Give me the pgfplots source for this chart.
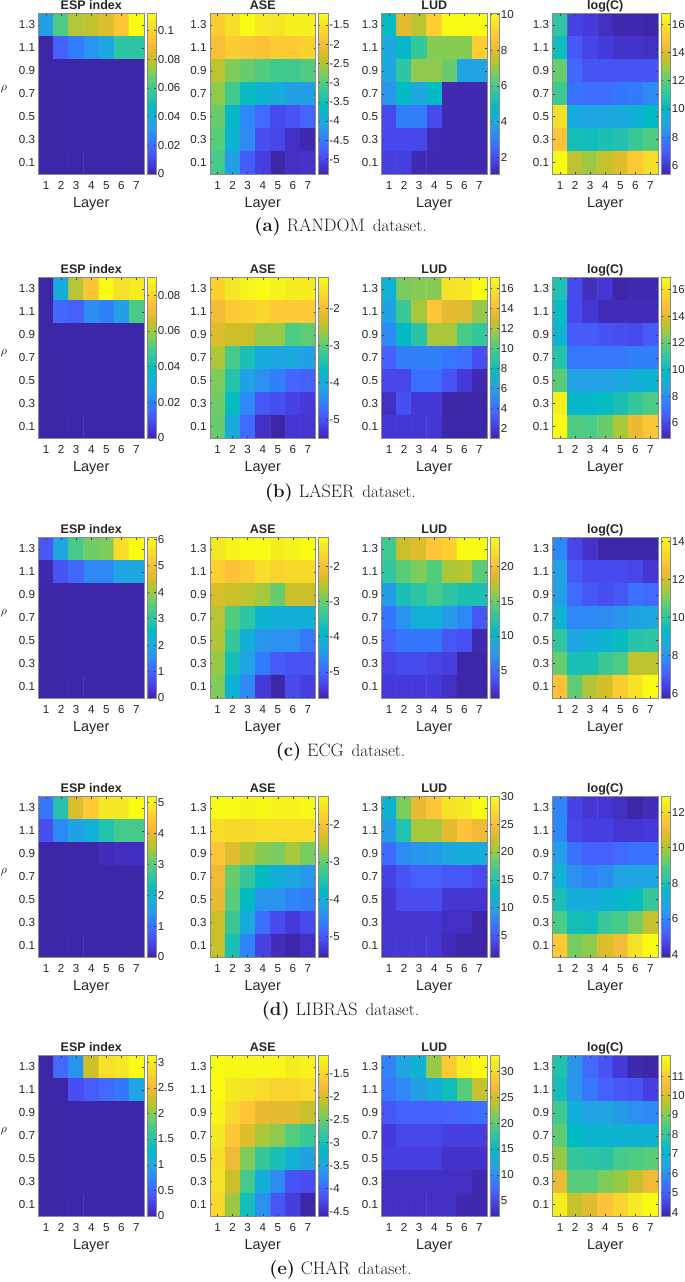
\documentclass[border=0pt]{standalone}
\usepackage{fontspec}
\setsansfont{Liberation Sans}
\usepackage{pgfplots}
\pgfplotsset{compat=1.18}

% parula
\pgfplotsset{colormap={parula}{
  rgb=(0.2422,0.1504,0.6603) rgb=(0.2706,0.2147,0.8364) rgb=(0.2813,0.3006,0.9414)
  rgb=(0.2699,0.3892,0.9906) rgb=(0.1963,0.4847,0.9892) rgb=(0.1687,0.5703,0.9359)
  rgb=(0.1248,0.6459,0.8883) rgb=(0.0689,0.6948,0.8394) rgb=(0.0067,0.7312,0.7660)
  rgb=(0.1408,0.7584,0.6842) rgb=(0.2161,0.7843,0.5923) rgb=(0.3406,0.8008,0.4789)
  rgb=(0.5044,0.7993,0.3480) rgb=(0.6720,0.7793,0.2227) rgb=(0.8203,0.7498,0.1535)
  rgb=(0.9393,0.7288,0.2100) rgb=(0.9970,0.7659,0.2199) rgb=(0.9786,0.8386,0.1766)
  rgb=(0.9597,0.9135,0.1423) rgb=(0.9769,0.9839,0.0805)}}

\pgfplotsset{
  heat/.style={
    scale only axis, width=105.5pt, height=160.5pt, anchor=south west,
    axis on top, colormap name=parula,
    xmin=0.5, xmax=7.5, ymin=0, ymax=1.4,
    xtick={1,...,7},
    ytick={0.1,0.3,0.5,0.7,0.9,1.1,1.3},
    yticklabels={0.1,0.3,0.5,0.7,0.9,1.1,1.3},
    tick align=inside, major tick length=2pt,
    tick style={black!75, line width=0.4pt},
    axis line style={black!45, line width=0.8pt},
    tick label style={font=\sffamily\fontsize{11.6}{12}\selectfont, black!85},
    /pgf/number format/assume math mode=true,
    xticklabel style={yshift=-3.5pt},
    xlabel={Layer},
    xlabel style={font=\sffamily\fontsize{14.5}{15}\selectfont, black!85, yshift=-1pt},
    title style={font=\sffamily\bfseries\fontsize{12.5}{13}\selectfont, black!85, inner sep=0pt,
      at={(0.5,1)}, anchor=base, yshift=-2pt},
    colorbar,
  },
  firstcol/.style={
    ylabel={$\rho$},
    ylabel style={at={(axis description cs:-0.327,0.53)}, anchor=center, rotate=-90, font=\fontsize{13}{13}\selectfont},
  },
}

\newcommand{\panel}[8][]{%
\begin{axis}[heat, at={(#2pt,-#3pt)}, title={#4},
  point meta min=#5, point meta max=#6,
  colorbar style={width=9.5pt, xshift=-6pt, ytick={#7}, yticklabel pos=right,
    scaled y ticks=false,
    tick align=inside, major tick length=2pt, tick style={black!75, line width=0.4pt},
    axis line style={black!45, line width=0.8pt},
    /pgf/number format/fixed, /pgf/number format/assume math mode=true,
    yticklabel style={font=\sffamily\fontsize{11.5}{12}\selectfont, black!85, xshift=-2pt}},
  #1]
\addplot[matrix plot*, point meta=explicit, mesh/cols=7] coordinates {#8};
\end{axis}}

\newcommand{\subcap}[3]{\node[font=\fontsize{17}{18}\selectfont, black!90] at (340.5pt,-#1pt) {{\bfseries\fontsize{18.5}{19}\selectfont (#2)}\hspace{6pt}{\fontsize{18}{18}\selectfont #3}\hspace{8pt}dataset.};}

\begin{document}
\begin{tikzpicture}
\path[use as bounding box] (0,0) rectangle (685pt,-1282pt);

% (a) RANDOM
\panel[firstcol]{38.5}{174}{ESP index}{0}{0.112}{0,0.02,0.04,0.06,0.08,0.1}{
(1,1.3)[0.034](2,1.3)[0.063](3,1.3)[0.078](4,1.3)[0.08](5,1.3)[0.085](6,1.3)[0.095](7,1.3)[0.112]
(1,1.1)[0](2,1.1)[0.017](3,1.1)[0.024](4,1.1)[0.031](5,1.1)[0.037](6,1.1)[0.056](7,1.1)[0.056]
(1,0.9)[0](2,0.9)[0](3,0.9)[0](4,0.9)[0](5,0.9)[0](6,0.9)[0](7,0.9)[0]
(1,0.7)[0](2,0.7)[0](3,0.7)[0](4,0.7)[0](5,0.7)[0](6,0.7)[0](7,0.7)[0]
(1,0.5)[0](2,0.5)[0](3,0.5)[0](4,0.5)[0](5,0.5)[0](6,0.5)[0](7,0.5)[0]
(1,0.3)[0](2,0.3)[0](3,0.3)[0](4,0.3)[0](5,0.3)[0](6,0.3)[0](7,0.3)[0]
(1,0.1)[0](2,0.1)[0](3,0.1)[0](4,0.1)[0](5,0.1)[0](6,0.1)[0](7,0.1)[0]}
\panel{210}{174}{ASE}{-5.38}{-1.2}{-5,-4.5,-4,-3.5,-3,-2.5,-2,-1.5}{
(1,1.3)[-1.74](2,1.3)[-1.53](3,1.3)[-1.2](4,1.3)[-1.41](5,1.3)[-1.45](6,1.3)[-1.33](7,1.3)[-1.33]
(1,1.1)[-1.95](2,1.1)[-1.74](3,1.1)[-1.83](4,1.1)[-1.91](5,1.1)[-1.74](6,1.1)[-1.79](7,1.1)[-1.7]
(1,0.9)[-2.41](2,0.9)[-2.75](3,0.9)[-2.87](4,0.9)[-3](5,0.9)[-3.12](6,0.9)[-3.12](7,0.9)[-3]
(1,0.7)[-2.66](2,0.7)[-3.12](3,0.7)[-3.58](4,0.7)[-3.79](5,0.7)[-3.92](6,0.7)[-4.13](7,0.7)[-4.13]
(1,0.5)[-2.87](2,0.5)[-3.67](3,0.5)[-4.38](4,0.5)[-4.67](5,0.5)[-4.96](6,0.5)[-4.88](7,0.5)[-4.71]
(1,0.3)[-2.96](2,0.3)[-3.79](3,0.3)[-4.34](4,0.3)[-4.92](5,0.3)[-5](6,0.3)[-5.25](7,0.3)[-5.34]
(1,0.1)[-3.08](2,0.1)[-4.13](3,0.1)[-4.79](4,0.1)[-5.09](5,0.1)[-5.38](6,0.1)[-5.25](7,0.1)[-5.21]}
\panel{381.5}{174}{LUD}{1.05}{10.05}{2,4,6,8,10}{
(1,1.3)[4.9](2,1.3)[8](3,1.3)[7.4](4,1.3)[8.9](5,1.3)[10.05](6,1.3)[10.05](7,1.3)[10.05]
(1,1.1)[4](2,1.1)[4.65](3,1.1)[5.7](4,1.1)[6.8](5,1.1)[6.8](6,1.1)[6.8](7,1.1)[8.9]
(1,0.9)[4](2,0.9)[5.55](3,0.9)[6.9](4,0.9)[6.9](5,0.9)[6.45](6,0.9)[3.85](7,0.9)[3.85]
(1,0.7)[3.5](2,0.7)[4.85](3,0.7)[4](4,0.7)[4.85](5,0.7)[1.15](6,0.7)[1.15](7,0.7)[1.15]
(1,0.5)[1.95](2,0.5)[3](3,0.5)[3](4,0.5)[1.95](5,0.5)[1.15](6,0.5)[1.15](7,0.5)[1.15]
(1,0.3)[1.9](2,0.3)[1.9](3,0.3)[1.9](4,0.3)[1.2](5,0.3)[1.15](6,0.3)[1.15](7,0.3)[1.15]
(1,0.1)[1.7](2,0.1)[1.7](3,0.1)[1.15](4,0.1)[1.15](5,0.1)[1.15](6,0.1)[1.15](7,0.1)[1.15]}
\panel{552.5}{174}{log(C)}{5.4}{16.75}{6,8,10,12,14,16}{
(1,1.3)[11.1](2,1.3)[6.3](3,1.3)[6.1](4,1.3)[5.75](5,1.3)[5.5](6,1.3)[5.5](7,1.3)[5.4]
(1,1.1)[10.4](2,1.1)[6.9](3,1.1)[6.4](4,1.1)[6.1](5,1.1)[5.85](6,1.1)[5.85](7,1.1)[5.75]
(1,0.9)[12.2](2,0.9)[7.3](3,0.9)[6.8](4,0.9)[6.8](5,0.9)[6.8](6,0.9)[6.8](7,0.9)[6.8]
(1,0.7)[11.5](2,0.7)[7.55](3,0.7)[7.45](4,0.7)[7.45](5,0.7)[7.65](6,0.7)[7.8](7,0.7)[8.2]
(1,0.5)[15.85](2,0.5)[9.25](3,0.5)[9.15](4,0.5)[9.15](5,0.5)[9.25](6,0.5)[9.6](7,0.5)[10.15]
(1,0.3)[14.95](2,0.3)[10.5](3,0.3)[10.4](4,0.3)[10.6](5,0.3)[10.75](6,0.3)[11.4](7,0.3)[11.85]
(1,0.1)[16.75](2,0.1)[13.45](3,0.1)[13](4,0.1)[13.55](5,0.1)[14](6,0.1)[15.15](7,0.1)[15.75]}
\subcap{227}{a}{RANDOM}

% (b) LASER
\panel[firstcol]{38.5}{438}{ESP index}{0}{0.09}{0,0.02,0.04,0.06,0.08}{
(1,1.3)[0](2,1.3)[0.031](3,1.3)[0.063](4,1.3)[0.076](5,1.3)[0.09](6,1.3)[0.083](7,1.3)[0.086]
(1,1.1)[0](2,1.1)[0.015](3,1.1)[0.0135](4,1.1)[0.023](5,1.1)[0.02](6,1.1)[0.027](7,1.1)[0.05]
(1,0.9)[0](2,0.9)[0](3,0.9)[0](4,0.9)[0](5,0.9)[0](6,0.9)[0](7,0.9)[0]
(1,0.7)[0](2,0.7)[0](3,0.7)[0](4,0.7)[0](5,0.7)[0](6,0.7)[0](7,0.7)[0]
(1,0.5)[0](2,0.5)[0](3,0.5)[0](4,0.5)[0](5,0.5)[0](6,0.5)[0](7,0.5)[0]
(1,0.3)[0](2,0.3)[0](3,0.3)[0](4,0.3)[0](5,0.3)[0](6,0.3)[0](7,0.3)[0]
(1,0.1)[0](2,0.1)[0](3,0.1)[0](4,0.1)[0](5,0.1)[0](6,0.1)[0](7,0.1)[0]}
\panel{210}{438}{ASE}{-5.5}{-1.17}{-5,-4,-3,-2}{
(1,1.3)[-1.69](2,1.3)[-1.43](3,1.3)[-1.26](4,1.3)[-1.17](5,1.3)[-1.26](6,1.3)[-1.34](7,1.3)[-1.34]
(1,1.1)[-2.04](2,1.1)[-1.78](3,1.1)[-1.69](4,1.1)[-1.6](5,1.1)[-1.78](6,1.1)[-1.78](7,1.1)[-1.78]
(1,0.9)[-2.21](2,0.9)[-2.34](3,0.9)[-2.34](4,0.9)[-2.64](5,0.9)[-2.64](6,0.9)[-3.08](7,0.9)[-2.95]
(1,0.7)[-2.51](2,0.7)[-3.12](3,0.7)[-3.51](4,0.7)[-3.98](5,0.7)[-4.07](6,0.7)[-4.07](7,0.7)[-4.16]
(1,0.5)[-2.77](2,0.5)[-3.42](3,0.5)[-4.16](4,0.5)[-4.37](5,0.5)[-4.55](6,0.5)[-4.81](7,0.5)[-4.85]
(1,0.3)[-2.86](2,0.3)[-3.64](3,0.3)[-4.46](4,0.3)[-4.94](5,0.3)[-5.02](6,0.3)[-5.15](7,0.3)[-5.24]
(1,0.1)[-2.9](2,0.1)[-4.03](3,0.1)[-4.76](4,0.1)[-5.37](5,0.1)[-5.5](6,0.1)[-5.28](7,0.1)[-5.28]}
\panel{381.5}{438}{LUD}{1.07}{17.07}{2,4,6,8,10,12,14,16}{
(1,1.3)[7](2,1.3)[11](3,1.3)[11.3](4,1.3)[11.3](5,1.3)[15.95](6,1.3)[16.1](7,1.3)[17.07]
(1,1.1)[6](2,1.1)[9.55](3,1.1)[11.95](4,1.1)[14.65](5,1.1)[13.4](6,1.1)[13.25](7,1.1)[11.6]
(1,0.9)[4.9](2,0.9)[7.8](3,0.9)[8.9](4,0.9)[11.95](5,0.9)[11.95](6,0.9)[9.9](7,0.9)[9.4]
(1,0.7)[3.5](2,0.7)[4.6](3,0.7)[4.6](4,0.7)[4.6](5,0.7)[4.3](6,0.7)[4](7,0.7)[2.85]
(1,0.5)[2.5](2,0.5)[2.5](3,0.5)[4](4,0.5)[4](5,0.5)[3](6,0.5)[2](7,0.5)[1.25]
(1,0.3)[1.55](2,0.3)[2.85](3,0.3)[1.9](4,0.3)[1.9](5,0.3)[1.07](6,0.3)[1.07](7,0.3)[1.07]
(1,0.1)[1.9](2,0.1)[1.9](3,0.1)[1.9](4,0.1)[1.9](5,0.1)[1.07](6,0.1)[1.07](7,0.1)[1.07]}
\panel{552.5}{438}{log(C)}{4.87}{16.9}{6,8,10,12,14,16}{
(1,1.3)[10.5](2,1.3)[6.07](3,1.3)[5.2](4,1.3)[5.47](5,1.3)[4.87](6,1.3)[5](7,1.3)[5]
(1,1.1)[10.05](2,1.1)[6.07](3,1.1)[5.47](4,1.1)[5.1](5,1.1)[5.1](6,1.1)[5.1](7,1.1)[5.1]
(1,0.9)[9.45](2,0.9)[6.55](3,0.9)[6.55](4,0.9)[6.3](5,0.9)[6.2](6,0.9)[6.07](7,0.9)[6.55]
(1,0.7)[10.65](2,0.7)[7.28](3,0.7)[7.28](4,0.7)[7.28](5,0.7)[7.28](6,0.7)[7.52](7,0.7)[7.52]
(1,0.5)[11.85](2,0.5)[8.6](3,0.5)[8.6](4,0.5)[8.6](5,0.5)[8.85](6,0.5)[9.2](7,0.5)[9.45]
(1,0.3)[16.5](2,0.3)[9.7](3,0.3)[9.7](4,0.3)[10.05](5,0.3)[10.4](6,0.3)[11.1](7,0.3)[11.6]
(1,0.1)[16.9](2,0.1)[11.7](3,0.1)[11.6](4,0.1)[12.1](5,0.1)[13.05](6,0.1)[14.25](7,0.1)[15.1]}
\subcap{493}{b}{LASER}

% (c) ECG
\panel[firstcol]{38.5}{698}{ESP index}{0}{6.06}{0,1,2,3,4,5,6}{
(1,1.3)[0.8](2,1.3)[2](3,1.3)[3.35](4,1.3)[3.7](5,1.3)[3.8](6,1.3)[5.55](7,1.3)[6.06]
(1,1.1)[0.05](2,1.1)[0.75](3,1.1)[1](4,1.1)[1.45](5,1.1)[1.45](6,1.1)[1.9](7,1.1)[1.95]
(1,0.9)[0](2,0.9)[0](3,0.9)[0](4,0.9)[0](5,0.9)[0](6,0.9)[0](7,0.9)[0]
(1,0.7)[0](2,0.7)[0](3,0.7)[0](4,0.7)[0](5,0.7)[0](6,0.7)[0](7,0.7)[0]
(1,0.5)[0](2,0.5)[0](3,0.5)[0](4,0.5)[0](5,0.5)[0](6,0.5)[0](7,0.5)[0]
(1,0.3)[0](2,0.3)[0](3,0.3)[0](4,0.3)[0](5,0.3)[0](6,0.3)[0](7,0.3)[0]
(1,0.1)[0](2,0.1)[0](3,0.1)[0](4,0.1)[0](5,0.1)[0](6,0.1)[0](7,0.1)[0]}
\panel{210}{698}{ASE}{-5.74}{-1.19}{-5,-4,-3,-2}{
(1,1.3)[-1.46](2,1.3)[-1.28](3,1.3)[-1.19](4,1.3)[-1.19](5,1.3)[-1.37](6,1.3)[-1.28](7,1.3)[-1.19]
(1,1.1)[-1.74](2,1.1)[-1.96](3,1.1)[-1.78](4,1.1)[-1.55](5,1.1)[-1.69](6,1.1)[-1.64](7,1.1)[-1.64]
(1,0.9)[-2.33](2,0.9)[-2.42](3,0.9)[-2.51](4,0.9)[-2.65](5,0.9)[-3.01](6,0.9)[-2.42](7,0.9)[-2.42]
(1,0.7)[-2.55](2,0.7)[-3.15](3,0.7)[-3.47](4,0.7)[-3.97](5,0.7)[-4.1](6,0.7)[-4.1](7,0.7)[-4.1]
(1,0.5)[-2.6](2,0.5)[-3.37](3,0.5)[-4.1](4,0.5)[-4.47](5,0.5)[-4.56](6,0.5)[-4.56](7,0.5)[-4.83]
(1,0.3)[-2.74](2,0.3)[-3.69](3,0.3)[-4.33](4,0.3)[-4.78](5,0.3)[-5.1](6,0.3)[-5.19](7,0.3)[-5.19]
(1,0.1)[-2.87](2,0.1)[-4.01](3,0.1)[-4.65](4,0.1)[-5.47](5,0.1)[-5.74](6,0.1)[-5.29](7,0.1)[-5.42]}
\panel{381.5}{698}{LUD}{1}{24.2}{5,10,15,20}{
(1,1.3)[13.5](2,1.3)[17.9](3,1.3)[18.6](4,1.3)[20.7](5,1.3)[21.4](6,1.3)[24.2](7,1.3)[24.2]
(1,1.1)[12.8](2,1.1)[14.5](3,1.1)[15.6](4,1.1)[14.2](5,1.1)[16.8](6,1.1)[17.2](7,1.1)[14.5]
(1,0.9)[7.7](2,0.9)[11.7](3,0.9)[12.6](4,0.9)[13.8](5,0.9)[12.6](6,0.9)[11.7](7,0.9)[11.7]
(1,0.7)[5.6](2,0.7)[7.3](3,0.7)[9.4](4,0.7)[9.4](5,0.7)[7.7](6,0.7)[6.6](7,0.7)[4]
(1,0.5)[4.5](2,0.5)[5.6](3,0.5)[5.6](4,0.5)[5.6](5,0.5)[4](6,0.5)[3.6](7,0.5)[1.25]
(1,0.3)[2.9](2,0.3)[3.3](3,0.3)[3.3](4,0.3)[2.9](5,0.3)[2.6](6,0.3)[1](7,0.3)[1]
(1,0.1)[2.4](2,0.1)[2.4](3,0.1)[2.4](4,0.1)[2.4](5,0.1)[1.7](6,0.1)[1](7,0.1)[1]}
\panel{552.5}{698}{log(C)}{5.74}{14.2}{6,8,10,12,14}{
(1,1.3)[7.77](2,1.3)[6.5](3,1.3)[6.08](4,1.3)[5.74](5,1.3)[5.74](6,1.3)[5.74](7,1.3)[5.74]
(1,1.1)[8.36](2,1.1)[6.92](3,1.1)[6.59](4,1.1)[6.59](5,1.1)[6.59](6,1.1)[6.5](7,1.1)[6.16]
(1,0.9)[8.28](2,0.9)[7.26](3,0.9)[6.84](4,0.9)[6.67](5,0.9)[6.84](6,0.9)[7.35](7,0.9)[7.18]
(1,0.7)[8.95](2,0.7)[7.77](3,0.7)[7.77](4,0.7)[7.86](5,0.7)[8.02](6,0.7)[8.36](7,0.7)[8.53]
(1,0.5)[10.05](2,0.5)[8.45](3,0.5)[8.79](4,0.5)[8.95](5,0.5)[9.38](6,0.5)[9.8](7,0.5)[9.97]
(1,0.3)[10.8](2,0.3)[9.63](3,0.3)[9.63](4,0.3)[10.22](5,0.3)[10.48](6,0.3)[11.75](7,0.3)[11.75]
(1,0.1)[12.76](2,0.1)[10.73](3,0.1)[11.58](4,0.1)[12](5,0.1)[13.1](6,0.1)[13.6](7,0.1)[14.2]}
\subcap{752}{c}{ECG}

% (d) LIBRAS
\panel[firstcol]{38.5}{957}{ESP index}{0}{5.19}{0,1,2,3,4,5}{
(1,1.3)[1.04](2,1.3)[2.5](3,1.3)[3.9](4,1.3)[4.45](5,1.3)[4.9](6,1.3)[4.9](7,1.3)[5.19]
(1,1.1)[0.57](2,1.1)[1.25](3,1.1)[1.6](4,1.1)[1.9](5,1.1)[2.45](6,1.1)[2.85](7,1.1)[2.85]
(1,0.9)[0](2,0.9)[0](3,0.9)[0](4,0.9)[0](5,0.9)[0.1](6,0.9)[0.15](7,0.9)[0.15]
(1,0.7)[0](2,0.7)[0](3,0.7)[0](4,0.7)[0](5,0.7)[0](6,0.7)[0](7,0.7)[0]
(1,0.5)[0](2,0.5)[0](3,0.5)[0](4,0.5)[0](5,0.5)[0](6,0.5)[0](7,0.5)[0]
(1,0.3)[0](2,0.3)[0](3,0.3)[0](4,0.3)[0](5,0.3)[0](6,0.3)[0](7,0.3)[0]
(1,0.1)[0](2,0.1)[0](3,0.1)[0](4,0.1)[0](5,0.1)[0](6,0.1)[0](7,0.1)[0]}
\panel{210}{957}{ASE}{-5.55}{-1.25}{-5,-4,-3,-2}{
(1,1.3)[-1.25](2,1.3)[-1.25](3,1.3)[-1.34](4,1.3)[-1.29](5,1.3)[-1.38](6,1.3)[-1.38](7,1.3)[-1.29]
(1,1.1)[-1.59](2,1.1)[-1.68](3,1.1)[-1.68](4,1.1)[-1.59](5,1.1)[-1.64](6,1.1)[-1.64](7,1.1)[-1.64]
(1,0.9)[-1.9](2,0.9)[-2.28](3,0.9)[-2.58](4,0.9)[-2.8](5,0.9)[-2.88](6,0.9)[-2.63](7,0.9)[-2.88]
(1,0.7)[-2.15](2,0.7)[-2.97](3,0.7)[-3.31](4,0.7)[-3.74](5,0.7)[-4](6,0.7)[-4.13](7,0.7)[-4.35]
(1,0.5)[-2.2](2,0.5)[-3.06](3,0.5)[-3.74](4,0.5)[-4.39](5,0.5)[-4.39](6,0.5)[-4.56](7,0.5)[-4.6]
(1,0.3)[-2.41](2,0.3)[-3.27](3,0.3)[-4.09](4,0.3)[-4.78](5,0.3)[-5.12](6,0.3)[-5.29](7,0.3)[-5.12]
(1,0.1)[-2.45](2,0.1)[-3.57](3,0.1)[-4.56](4,0.1)[-5.21](5,0.1)[-5.46](6,0.1)[-5.55](7,0.1)[-5.42]}
\panel{381.5}{957}{LUD}{1.08}{30}{5,10,15,20,25,30}{
(1,1.3)[12.1](2,1.3)[19.3](3,1.3)[23.6](4,1.3)[25.6](5,1.3)[28](6,1.3)[28.5](7,1.3)[30]
(1,1.1)[9.5](2,1.1)[14.7](3,1.1)[20.7](4,1.1)[20.7](5,1.1)[23.3](6,1.1)[25.4](7,1.1)[23.9]
(1,0.9)[6](2,0.9)[8.3](3,0.9)[8.9](4,0.9)[9.5](5,0.9)[10.6](6,0.9)[11.2](7,0.9)[11.2]
(1,0.7)[3.4](2,0.7)[4.55](3,0.7)[5.4](4,0.7)[5.4](5,0.7)[4.8](6,0.7)[4.8](7,0.7)[4]
(1,0.5)[2.5](2,0.5)[4](3,0.5)[4](4,0.5)[4](5,0.5)[2.5](6,0.5)[2.5](7,0.5)[2.5]
(1,0.3)[2.5](2,0.3)[2.5](3,0.3)[2.5](4,0.3)[2.5](5,0.3)[2](6,0.3)[2](7,0.3)[1.08]
(1,0.1)[2.5](2,0.1)[2.5](3,0.1)[2.5](4,0.1)[2.5](5,0.1)[1.65](6,0.1)[1.08](7,0.1)[1.08]}
\panel{552.5}{957}{log(C)}{3.87}{12.87}{4,6,8,10,12}{
(1,1.3)[5.94](2,1.3)[4.59](3,1.3)[4.32](4,1.3)[4.32](5,1.3)[4.14](6,1.3)[3.87](7,1.3)[4.05]
(1,1.1)[6.03](2,1.1)[4.68](3,1.1)[4.5](4,1.1)[4.5](5,1.1)[4.32](6,1.1)[4.32](7,1.1)[4.41]
(1,0.9)[6.57](2,0.9)[5.58](3,0.9)[5.22](4,0.9)[5.22](5,0.9)[5.4](6,0.9)[5.58](7,0.9)[5.58]
(1,0.7)[7.2](2,0.7)[6.21](3,0.7)[5.94](4,0.7)[6.12](5,0.7)[6.66](6,0.7)[6.75](7,0.7)[6.75]
(1,0.5)[8](2,0.5)[7](3,0.5)[7](4,0.5)[7.2](5,0.5)[7.4](6,0.5)[7.74](7,0.5)[8.55]
(1,0.3)[8.9](2,0.3)[7.9](3,0.3)[7.83](4,0.3)[8.64](5,0.3)[8.82](6,0.3)[9.45](7,0.3)[10.35]
(1,0.1)[11.6](2,0.1)[9.45](3,0.1)[9.72](4,0.1)[10.62](5,0.1)[11.07](6,0.1)[12.24](7,0.1)[12.87]}
\subcap{1011}{d}{LIBRAS}

% (e) CHAR
\panel[firstcol]{38.5}{1216}{ESP index}{0}{3.13}{0,0.5,1,1.5,2,2.5,3}{
(1,1.3)[0](2,1.3)[0.53](3,1.3)[0.85](4,1.3)[2.28](5,1.3)[2.9](6,1.3)[2.95](7,1.3)[3.13]
(1,1.1)[0](2,1.1)[0](3,1.1)[0.35](4,1.1)[0.45](5,1.1)[0.53](6,1.1)[0.63](7,1.1)[1]
(1,0.9)[0](2,0.9)[0](3,0.9)[0](4,0.9)[0](5,0.9)[0](6,0.9)[0](7,0.9)[0]
(1,0.7)[0](2,0.7)[0](3,0.7)[0](4,0.7)[0](5,0.7)[0](6,0.7)[0](7,0.7)[0]
(1,0.5)[0](2,0.5)[0](3,0.5)[0](4,0.5)[0](5,0.5)[0](6,0.5)[0](7,0.5)[0]
(1,0.3)[0](2,0.3)[0](3,0.3)[0](4,0.3)[0](5,0.3)[0](6,0.3)[0](7,0.3)[0]
(1,0.1)[0](2,0.1)[0](3,0.1)[0](4,0.1)[0](5,0.1)[0](6,0.1)[0](7,0.1)[0]}
\panel{210}{1216}{ASE}{-4.6}{-1.1}{-4.5,-4,-3.5,-3,-2.5,-2,-1.5}{
(1,1.3)[-1.1](2,1.3)[-1.14](3,1.3)[-1.14](4,1.3)[-1.14](5,1.3)[-1.14](6,1.3)[-1.24](7,1.3)[-1.2]
(1,1.1)[-1.1](2,1.1)[-1.28](3,1.1)[-1.34](4,1.1)[-1.42](5,1.1)[-1.49](6,1.1)[-1.49](7,1.1)[-1.42]
(1,0.9)[-1.17](2,0.9)[-1.45](3,0.9)[-1.63](4,0.9)[-1.87](5,0.9)[-1.9](6,0.9)[-1.9](7,0.9)[-2.08]
(1,0.7)[-1.28](2,0.7)[-1.63](3,0.7)[-1.94](4,0.7)[-2.22](5,0.7)[-2.33](6,0.7)[-2.6](7,0.7)[-2.75]
(1,0.5)[-1.38](2,0.5)[-1.84](3,0.5)[-2.4](4,0.5)[-2.78](5,0.5)[-2.99](6,0.5)[-3.3](7,0.5)[-3.55]
(1,0.3)[-1.35](2,0.3)[-2.05](3,0.3)[-2.68](4,0.3)[-3.34](5,0.3)[-3.73](6,0.3)[-4.18](7,0.3)[-4.22]
(1,0.1)[-1.45](2,0.1)[-2.26](3,0.1)[-3.03](4,0.1)[-3.69](5,0.1)[-4.15](6,0.1)[-4.36](7,0.1)[-4.6]}
\panel{381.5}{1216}{LUD}{2.05}{33.1}{5,10,15,20,25,30}{
(1,1.3)[9.2](2,1.3)[12](3,1.3)[13.8](4,1.3)[22.5](5,1.3)[28.7](6,1.3)[31.8](7,1.3)[33.05]
(1,1.1)[8.25](2,1.1)[9.5](3,1.1)[11.35](4,1.1)[13.2](5,1.1)[15.7](6,1.1)[20](7,1.1)[24.4]
(1,0.9)[6.1](2,0.9)[6.7](3,0.9)[6.7](4,0.9)[6.7](5,0.9)[7](6,0.9)[7.3](7,0.9)[7.6]
(1,0.7)[3.9](2,0.7)[4.85](3,0.7)[4.85](4,0.7)[4.85](5,0.7)[4.2](6,0.7)[4.2](7,0.7)[4.2]
(1,0.5)[4.2](2,0.5)[4.2](3,0.5)[4.2](4,0.5)[4.2](5,0.5)[3.3](6,0.5)[3.3](7,0.5)[3.3]
(1,0.3)[3](2,0.3)[3](3,0.3)[3](4,0.3)[3](5,0.3)[3](6,0.3)[3](7,0.3)[2.35]
(1,0.1)[3](2,0.1)[3](3,0.1)[3](4,0.1)[3](5,0.1)[3](6,0.1)[2.35](7,0.1)[2.35]}
\panel{552.5}{1216}{log(C)}{3.8}{12.06}{4,5,6,7,8,9,10,11}{
(1,1.3)[7.68](2,1.3)[6.03](3,1.3)[5.2](4,1.3)[4.8](5,1.3)[4.3](6,1.3)[3.88](7,1.3)[3.8]
(1,1.1)[7.52](2,1.1)[6.1](3,1.1)[5.45](4,1.1)[5.04](5,1.1)[4.87](6,1.1)[4.8](7,1.1)[4.38]
(1,0.9)[8.26](2,0.9)[6.77](3,0.9)[6.36](4,0.9)[6.36](5,0.9)[6.2](6,0.9)[5.95](7,0.9)[5.78]
(1,0.7)[8.67](2,0.7)[7.27](3,0.7)[7.02](4,0.7)[7.02](5,0.7)[6.94](6,0.7)[6.94](7,0.7)[6.94]
(1,0.5)[9.25](2,0.5)[8.1](3,0.5)[7.93](4,0.5)[7.85](5,0.5)[8.34](6,0.5)[8.43](7,0.5)[8.59]
(1,0.3)[10.24](2,0.3)[8.59](3,0.3)[8.59](4,0.3)[9](5,0.3)[9.25](6,0.3)[9.75](7,0.3)[10.33]
(1,0.1)[11.73](2,0.1)[9.75](3,0.1)[10.08](4,0.1)[10.74](5,0.1)[11.15](6,0.1)[11.65](7,0.1)[12.06]}
\subcap{1270}{e}{CHAR}
\end{tikzpicture}
\end{document}
